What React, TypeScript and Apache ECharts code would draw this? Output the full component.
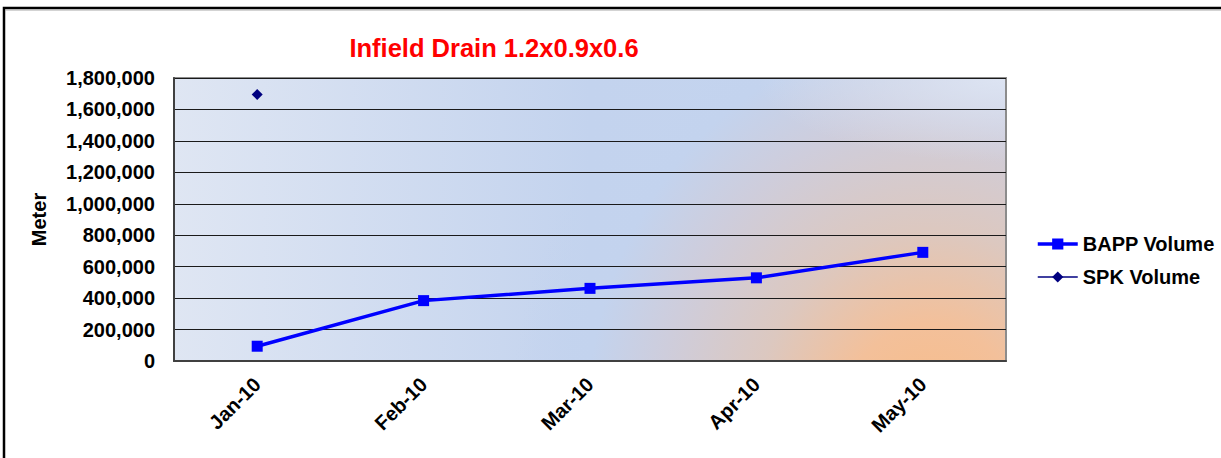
import React, { useEffect, useRef } from "react";
import * as echarts from "echarts";

const categories = ["Jan-10", "Feb-10", "Mar-10", "Apr-10", "May-10"];
const bappVolume = [94000, 384000, 462000, 529000, 691000];
const spkVolume: (number | null)[] = [1695000, null, null, null, null];
const yTicks = { min: 0, max: 1800000, interval: 200000 };

const FONT = "'Liberation Sans', Arial, sans-serif";
const GL = 174, GT = 78, GW = 832, GH = 283;
const SY = 1.143;

const fmt = (v: number) => String(v).replace(/\B(?=(\d{3})+(?!\d))/g, ",");

export default function App() {
  const ref = useRef<HTMLDivElement>(null);
  useEffect(() => {
    if (!ref.current) return;
    const chart = echarts.init(ref.current, undefined, { renderer: "svg" });
    chart.setOption({
      animation: false,
      backgroundColor: "#ffffff",
      title: {
        text: "Infield Drain 1.2x0.9x0.6",
        left: 489,
        top: 30,
        textAlign: "center",
        textStyle: { color: "#ff0000", fontFamily: FONT, fontWeight: "bold", fontSize: 25.5 },
      },
      legend: {
        orient: "vertical",
        left: 1036,
        top: 234,
        padding: 0,
        itemWidth: 40,
        itemHeight: 14,
        itemGap: 13,
        textStyle: { color: "#000", fontFamily: FONT, fontWeight: "bold", fontSize: 20, lineHeight: 20 },
        data: [
          { name: "BAPP Volume", lineStyle: { width: 3.5, color: "#0000ff" } },
          { name: "SPK Volume", lineStyle: { width: 1.5, color: "#000080" } },
        ],
      },
      graphic: [
        {
          type: "rect",
          z: -3,
          silent: true,
          shape: { x: GL, y: GT, width: GW, height: GH },
          style: {
            fill: new echarts.graphic.LinearGradient(0, 0, 1, 0, [
              { offset: 0, color: "#dfe6f3" },
              { offset: 0.5, color: "#c3d3ee" },
              { offset: 1, color: "#c6d5ef" },
            ]),
          },
        },
        {
          type: "rect",
          z: -2,
          silent: true,
          x: GL,
          y: GT,
          scaleY: SY,
          shape: { x: 0, y: 0, width: GW, height: GH / SY },
          style: {
            fill: new echarts.graphic.RadialGradient(
              930 - GL,
              (430 - GT) / SY,
              420,
              [
                { offset: 0, color: "rgba(249,188,134,1)" },
                { offset: 0.22, color: "rgba(243,192,154,1)" },
                { offset: 0.42, color: "rgba(220,200,192,1)" },
                { offset: 0.65, color: "rgba(206,205,220,1)" },
                { offset: 0.82, color: "rgba(195,211,238,1)" },
                { offset: 1, color: "rgba(195,211,238,0)" },
              ],
              true
            ),
          },
        },
        {
          type: "rect",
          z: -1,
          silent: true,
          shape: { x: GL, y: GT, width: GW, height: GH },
          style: {
            fill: new echarts.graphic.RadialGradient(1, 0, 0.3, [
              { offset: 0, color: "rgba(222,229,243,0.95)" },
              { offset: 1, color: "rgba(222,229,243,0)" },
            ]),
          },
        },
        {
          type: "rect",
          z: -1,
          silent: true,
          shape: { x: GL, y: GT, width: GW, height: GH },
          style: { fill: "none", stroke: "#8c8c8c", lineWidth: 2 },
        },
        {
          type: "rect",
          silent: true,
          shape: { x: 4, y: 8, width: 1400, height: 600 },
          style: { fill: "none", stroke: "#000", lineWidth: 2.5 },
        },
        {
          type: "line",
          silent: true,
          shape: { x1: 5, y1: 10, x2: 1221, y2: 10 },
          style: { stroke: "#a8a8a8", lineWidth: 1 },
        },
      ],
      grid: { left: GL, top: GT, width: GW, height: GH, containLabel: false },
      xAxis: {
        type: "category",
        data: categories,
        boundaryGap: true,
        axisLine: { show: true, lineStyle: { color: "#404040", width: 2 } },
        axisTick: { show: false },
        axisLabel: {
          rotate: 45,
          margin: 20,
          color: "#000",
          fontFamily: FONT,
          fontWeight: "bold",
          fontSize: 20,
        },
      },
      yAxis: {
        type: "value",
        min: yTicks.min,
        max: yTicks.max,
        interval: yTicks.interval,
        name: "Meter",
        nameLocation: "middle",
        nameGap: 125,
        nameTextStyle: { color: "#000", fontFamily: FONT, fontWeight: "bold", fontSize: 20 },
        axisLine: { show: true, lineStyle: { color: "#404040", width: 2 } },
        axisTick: { show: false },
        axisLabel: {
          margin: 19,
          color: "#000",
          fontFamily: FONT,
          fontWeight: "bold",
          fontSize: 20,
          formatter: (v: number) => fmt(v),
        },
        splitLine: { show: true, lineStyle: { color: "#1a1a1a", width: 1 } },
      },
      series: [
        {
          name: "BAPP Volume",
          type: "line",
          data: bappVolume,
          symbol: "rect",
          symbolSize: 11,
          itemStyle: { color: "#0000ff" },
          lineStyle: { color: "#0000ff", width: 3.5 },
          z: 3,
        },
        {
          name: "SPK Volume",
          type: "line",
          data: spkVolume,
          symbol: "diamond",
          symbolSize: 11,
          itemStyle: { color: "#000080" },
          lineStyle: { color: "#000080", width: 1.5 },
          z: 3,
        },
      ],
    });
    return () => chart.dispose();
  }, []);
  return (
    <div
      ref={ref}
      style={{ position: "fixed", left: 0, top: 0, width: 1221, height: 458 }}
    />
  );
}
